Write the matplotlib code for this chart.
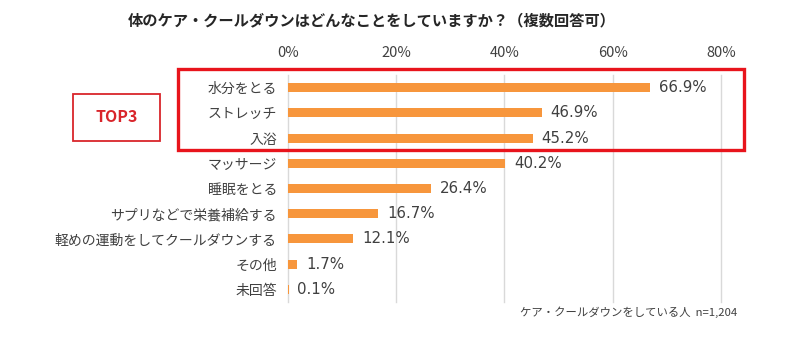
import matplotlib
matplotlib.use('Agg')
import matplotlib.pyplot as plt
from matplotlib.patches import Rectangle

plt.rcParams['font.family'] = ['Noto Sans CJK JP', 'DejaVu Sans']

# ── Data ──
categories = ['水分をとる', 'ストレッチ', '入浴', 'マッサージ', '睡眠をとる',
              'サプリなどで栄養補給する', '軽めの運動をしてクールダウンする',
              'その他', '未回答']
values = [66.9, 46.9, 45.2, 40.2, 26.4, 16.7, 12.1, 1.7, 0.1]
xticks = [0, 20, 40, 60, 80]
xtick_labels = ['0%', '20%', '40%', '60%', '80%']

title = '体のケア・クールダウンはどんなことをしていますか？（複数回答可）'
note = 'ケア・クールダウンをしている人  n=1,204'

text_color = '#404040'
bar_color = '#F7963C'

fig = plt.figure(figsize=(8, 3.37), dpi=100)
ax = fig.add_axes([0.36, 0.104, 0.541, 0.673])

y = list(range(len(categories)))
ax.barh(y, values, height=0.36, color=bar_color, zorder=3)
for yi, v in zip(y, values):
    ax.text(v + 1.6, yi, f'{v:.1f}%', va='center', ha='left',
            fontsize=10.8, color=text_color, family=['DejaVu Sans'])

ax.set_xlim(0, 80)
ax.set_ylim(len(categories) - 0.5, -0.5)
ax.set_xticks(xticks)
ax.set_xticklabels(xtick_labels, fontsize=10.5, color=text_color)
ax.xaxis.tick_top()
ax.tick_params(axis='x', length=0, pad=11)
ax.set_yticks(y)
ax.set_yticklabels(categories, fontsize=10, color=text_color)
ax.tick_params(axis='y', length=0, pad=8)
ax.grid(axis='x', color='#D9D9D9', lw=1, zorder=0)
for gl in ax.get_xgridlines():
    gl.set_clip_on(False)
for s in ax.spines.values():
    s.set_visible(False)

fig.text(0.465, 0.94, title, ha='center', va='center', fontsize=11,
         fontweight='bold', color='#262626')
fig.text(0.922, 0.074, note, ha='right', va='center', fontsize=8.2,
         color=text_color)

# ── TOP3 highlight boxes ──
fig.patches.append(Rectangle((178 / 800, 1 - 150 / 337), (744 - 178) / 800,
                             (150 - 69) / 337, transform=fig.transFigure,
                             fill=False, edgecolor='#E8141C', lw=2.4))
fig.patches.append(Rectangle((73 / 800, 1 - 141 / 337), (160 - 73) / 800,
                             (141 - 94) / 337, transform=fig.transFigure,
                             fill=False, edgecolor='#D9252B', lw=1.3))
fig.text(116.5 / 800, 1 - 117.5 / 337, 'TOP3', ha='center', va='center',
         fontsize=11.5, fontweight='bold', color='#D9252B')

fig.savefig('out.png', dpi=100)
